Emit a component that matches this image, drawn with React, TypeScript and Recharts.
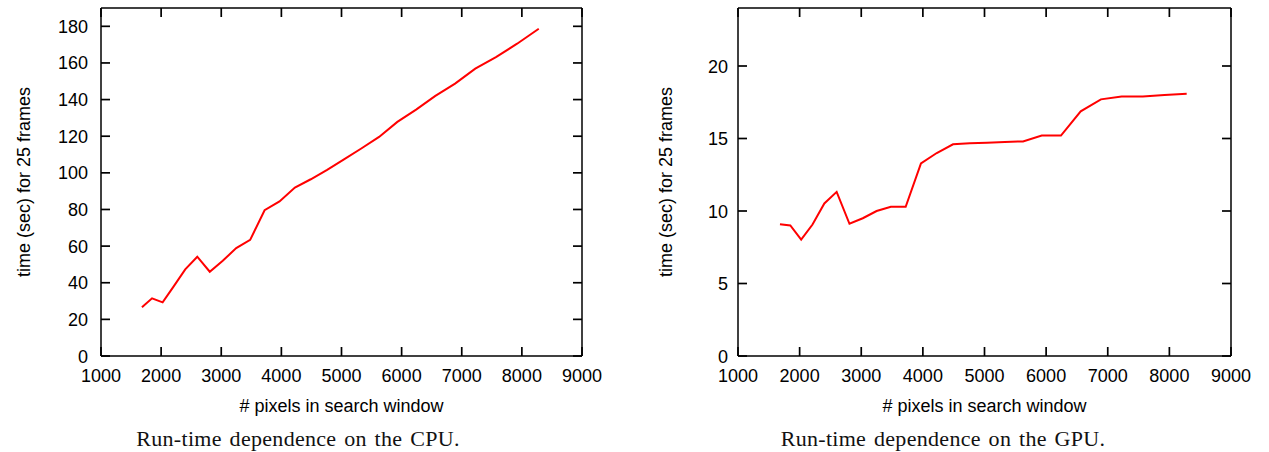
import React from 'react';
import { LineChart, Line, XAxis, YAxis, Label } from 'recharts';

// search window sizes (pixels) - odd squares 41^2 .. 91^2
const windowPixels = [
  1681, 1849, 2025, 2209, 2401, 2601, 2809, 3025, 3249, 3481, 3721, 3969, 4225,
  4489, 4761, 5041, 5329, 5625, 5929, 6241, 6561, 6889, 7225, 7569, 7921, 8281,
];

// time (sec) for 25 frames
const cpuTimes = [
  26.6, 31.5, 29.3, 38.0, 47.3, 54.2, 46.0, 52.0, 58.9, 63.4, 79.6, 84.4, 92.0,
  96.5, 101.6, 107.3, 113.3, 119.6, 127.8, 134.5, 142.0, 148.7, 156.9, 163.2, 170.5, 178.7,
];
const gpuTimes = [
  9.09, 9.0, 8.02, 9.07, 10.52, 11.32, 9.12, 9.5, 10.0, 10.29, 10.29, 13.29, 14.0,
  14.6, 14.67, 14.71, 14.76, 14.8, 15.2, 15.2, 16.87, 17.7, 17.9, 17.9, 18.0, 18.09,
];

const xTicks = [1000, 2000, 3000, 4000, 5000, 6000, 7000, 8000, 9000];
const cpuYTicks = [0, 20, 40, 60, 80, 100, 120, 140, 160, 180];
const gpuYTicks = [0, 5, 10, 15, 20];

const xLabel = '# pixels in search window';
const yLabel = 'time (sec) for 25 frames';

const cpuData = windowPixels.map((px, i) => ({ px, t: cpuTimes[i] }));
const gpuData = windowPixels.map((px, i) => ({ px, t: gpuTimes[i] }));

const sans = '"Liberation Sans", Arial, sans-serif';
const frame = { stroke: '#000', strokeWidth: 1.5 };
const TICK_LEN = 9;
const TICK_W = 1.7;

// gnuplot ticks point into the plot, so each tick renderer draws its own mark
const bottomTick = (gap: number) => (props: any) => {
  const { x, y, payload } = props;
  const base = y - gap;
  return (
    <g>
      <path d={`M${x},${base}V${base - TICK_LEN}`} stroke="#000" strokeWidth={TICK_W} fill="none" />
      <text x={x} y={y + 13} textAnchor="middle" fontSize={18} fontFamily={sans} fill="#000">
        {payload.value}
      </text>
    </g>
  );
};

const topTick = (props: any) => {
  const { x, y } = props;
  return <path d={`M${x},${y}V${y + TICK_LEN}`} stroke="#000" strokeWidth={TICK_W} fill="none" />;
};

const leftTick = (gap: number) => (props: any) => {
  const { x, y, payload } = props;
  const base = x + gap;
  return (
    <g>
      <path d={`M${base},${y}H${base + TICK_LEN}`} stroke="#000" strokeWidth={TICK_W} fill="none" />
      <text x={x} y={y + 6.5} textAnchor="end" fontSize={18} fontFamily={sans} fill="#000">
        {payload.value}
      </text>
    </g>
  );
};

const rightTick = (props: any) => {
  const { x, y } = props;
  return <path d={`M${x - TICK_LEN},${y}H${x}`} stroke="#000" strokeWidth={TICK_W} fill="none" />;
};

interface PanelProps {
  data: { px: number; t: number }[];
  yMax: number;
  yTicks: number[];
  yAxisWidth: number;
  yTickGap: number;
  yLabelOffset: number;
  width: number;
}

const Panel: React.FC<PanelProps> = ({ data, yMax, yTicks, yAxisWidth, yTickGap, yLabelOffset, width }) => (
  <LineChart width={width} height={452} data={data} margin={{ top: 7, right: 37, bottom: 36, left: 0 }}>
    <XAxis
      dataKey="px"
      type="number"
      domain={[1000, 9000]}
      ticks={xTicks}
      interval={0}
      height={60}
      axisLine={frame}
      tickLine={false}
      tickSize={0}
      tickMargin={13}
      tick={bottomTick(13)}
    >
      <Label value={xLabel} position="insideBottom" offset={4} style={{ fontSize: 18, fill: '#000', fontFamily: sans }} />
    </XAxis>
    <XAxis
      xAxisId="top"
      orientation="top"
      dataKey="px"
      type="number"
      domain={[1000, 9000]}
      allowDataOverflow
      ticks={xTicks}
      interval={0}
      height={1}
      axisLine={frame}
      tickLine={false}
      tickSize={0}
      tickMargin={0}
      tick={topTick}
    />
    <YAxis
      type="number"
      domain={[0, yMax]}
      ticks={yTicks}
      interval={0}
      width={yAxisWidth}
      axisLine={frame}
      tickLine={false}
      tickSize={0}
      tickMargin={yTickGap}
      tick={leftTick(yTickGap)}
    >
      <Label
        value={yLabel}
        angle={-90}
        position="insideLeft"
        offset={yLabelOffset}
        style={{ fontSize: 18, fill: '#000', fontFamily: sans, textAnchor: 'middle' }}
      />
    </YAxis>
    <YAxis
      yAxisId="right"
      orientation="right"
      type="number"
      domain={[0, yMax]}
      allowDataOverflow
      ticks={yTicks}
      interval={0}
      width={1}
      axisLine={frame}
      tickLine={false}
      tickSize={0}
      tickMargin={0}
      tick={rightTick}
    />
    <Line type="linear" dataKey="t" stroke="#ff0000" strokeWidth={2} dot={false} isAnimationActive={false} />
  </LineChart>
);

const captionStyle: React.CSSProperties = {
  position: 'absolute',
  top: 428,
  width: 420,
  textAlign: 'center',
  fontFamily: '"Liberation Serif", "Times New Roman", serif',
  fontSize: 22,
  lineHeight: '22px',
  letterSpacing: 0.3,
  wordSpacing: 2,
  color: '#111',
};

export default function App() {
  return (
    <div style={{ position: 'absolute', left: 0, top: 0, width: 1269, height: 452, background: '#fff' }}>
      <div style={{ position: 'absolute', left: 0, top: 0 }}>
        <Panel data={cpuData} yMax={190} yTicks={cpuYTicks} yAxisWidth={101} yTickGap={13} yLabelOffset={24} width={620} />
      </div>
      <div style={{ position: 'absolute', left: 636, top: 0 }}>
        <Panel data={gpuData} yMax={24} yTicks={gpuYTicks} yAxisWidth={102} yTickGap={10} yLabelOffset={30} width={633} />
      </div>
      <div style={{ ...captionStyle, left: 298 - 210 }}>Run-time dependence on the CPU.</div>
      <div style={{ ...captionStyle, left: 943 - 210 }}>Run-time dependence on the GPU.</div>
    </div>
  );
}
